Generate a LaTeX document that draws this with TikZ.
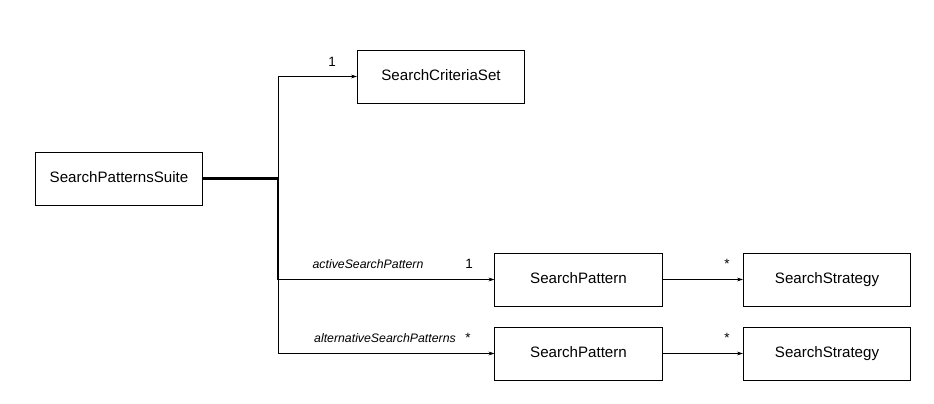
\documentclass[tikz,border=0pt]{standalone}
\usepackage{fontspec}
\setmainfont{Liberation Sans}
\usetikzlibrary{arrows.meta,positioning}
\tikzset{
    cls/.style={rectangle, draw, line width=0.6pt, minimum width=143pt, minimum height=45pt, text height=9pt, text depth=2.5pt, font=\fontsize{12.9}{15}\selectfont},
    assoc/.style={draw, line width=0.55pt, -{Stealth[length=5pt,width=3.2pt]}},
    trunk/.style={draw, line width=1.9pt},
    role/.style={font=\fontsize{10.5}{12}\selectfont\itshape, inner sep=1pt},
    mult/.style={font=\fontsize{11.5}{13}\selectfont, inner sep=1pt}
}
\begin{document}
\begin{tikzpicture}[x=0.03cm, y=-0.03cm]
    \useasboundingbox (0,0) rectangle (934,404);
    % classes
    \node[cls] (suite) at (119,178.5) {SearchPatternsSuite};
    \node[cls] (criteria) at (441,76.5) {SearchCriteriaSet};
    \node[cls] (pattern1) at (578.5,279.5) {SearchPattern};
    \node[cls] (strategy1) at (827,279.5) {SearchStrategy};
    \node[cls] (pattern2) at (578.5,353.5) {SearchPattern};
    \node[cls] (strategy2) at (827,353.5) {SearchStrategy};
    \coordinate (bus) at (278,178.5);

    % associations
    \draw[trunk] (suite.east) -- (bus);
    \draw[trunk] (bus) -- (bus |- pattern1.west);
    \draw[assoc] (bus) |- (criteria.west);
    \draw[assoc] (bus) |- (pattern1.west);
    \draw[assoc] (bus) |- (pattern2.west);
    \draw[assoc] (pattern1) -- (strategy1);
    \draw[assoc] (pattern2) -- (strategy2);

    % labels
    \node[mult] (m1) at (332,62) {1};
    \node[role] (r1) at (368,264) {activeSearchPattern};
    \node[mult] (m2) at (469,264) {1};
    \node[role] (r2) at (385,338) {alternativeSearchPatterns};
    \node[mult] (m3) at (468,338) {*};
    \node[mult] (m4) at (727,264) {*};
    \node[mult] (m5) at (727,338) {*};
\end{tikzpicture}
\end{document}
